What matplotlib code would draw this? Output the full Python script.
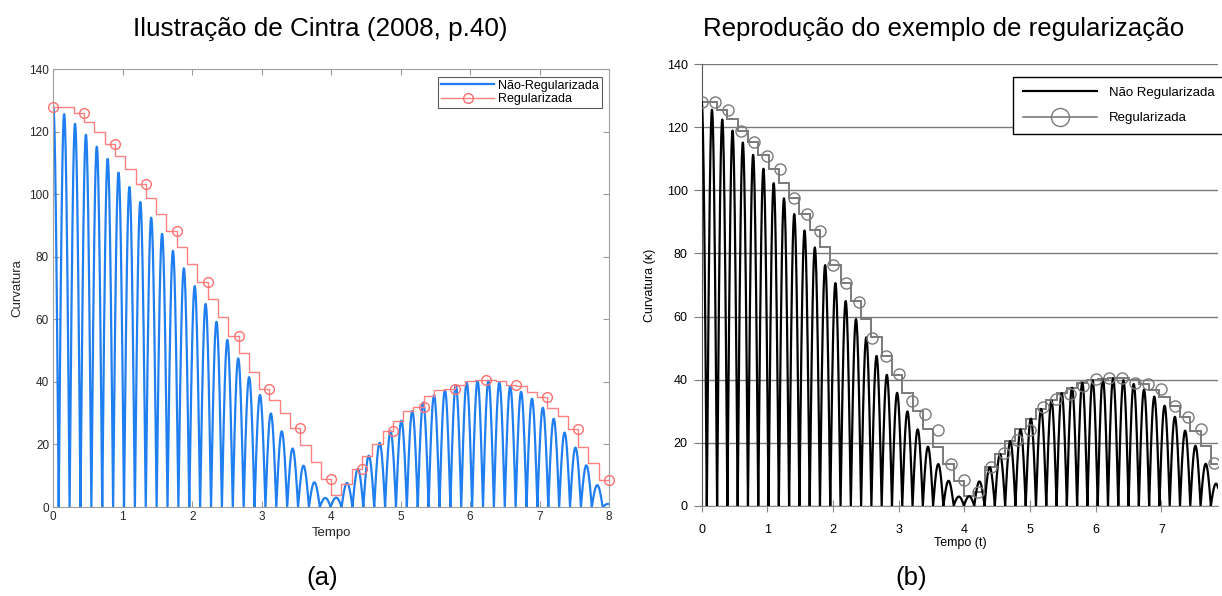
import numpy as np
import matplotlib
matplotlib.use('Agg')
import matplotlib.pyplot as plt
from matplotlib.lines import Line2D

plt.rcParams['font.family'] = ['Liberation Sans', 'DejaVu Sans']

# arch period of the curvature signal (time units)
period = 0.1566

# peak of each arch of the non-regularized curvature, k = 0..51
peak_vals = [128.0, 125.6, 122.5, 119.0, 115.2, 111.3, 106.9, 102.3, 97.5, 92.5,
             87.3, 81.9, 76.3, 70.6, 64.9, 59.2, 53.4, 47.5, 41.5, 35.8,
             29.9, 24.2, 18.7, 13.2, 7.9, 2.9, 3.0, 7.7, 12.2, 16.4,
             20.5, 24.2, 27.6, 30.7, 33.4, 35.7, 37.4, 39.0, 39.8, 40.3,
             40.4, 39.8, 38.6, 36.8, 34.6, 31.7, 28.2, 23.8, 19.0, 13.3,
             7.0, 1.0]

# (a) regularized curve, 55 samples over [0, 8]
reg_left = [128.0, 128.0, 128.0, 126.0, 123.2, 119.8, 116.1, 112.1, 108.0, 103.2,
            98.7, 93.6, 88.3, 83.0, 77.7, 72.0, 66.4, 60.8, 54.6, 49.1,
            43.2, 37.6, 34.2, 30.1, 25.1, 19.7, 14.3, 9.0, 4.0, 7.5,
            12.0, 16.4, 20.3, 24.2, 27.6, 30.7, 32.0, 35.5, 37.3, 37.8,
            39.0, 40.3, 40.5, 40.5, 40.2, 38.9, 38.6, 36.8, 35.1, 31.7,
            29.2, 24.9, 19.2, 14.0, 8.5]

# (b) regularized curve, one level per arch
reg_right = [128.0, 128.0, 125.6, 122.5, 119.0, 115.2, 111.3, 106.9, 102.3, 97.5,
             92.5, 87.3, 81.9, 76.3, 70.6, 64.9, 59.2, 53.4, 47.5, 41.5,
             35.8, 29.9, 24.2, 18.7, 13.2, 7.9, 3.0, 4.3, 12.2, 16.4,
             20.5, 24.2, 27.6, 30.7, 33.4, 35.7, 37.4, 39.0, 39.8, 40.3,
             40.4, 40.4, 39.8, 38.6, 36.8, 34.6, 31.7, 28.2, 23.8, 19.0,
             13.3, 7.0]

# (b) circle markers, every 0.2
mark_right = [128.0, 128.0, 125.5, 118.9, 115.3, 110.9, 106.8, 97.5, 92.5, 87.1,
              76.2, 70.6, 64.7, 53.3, 47.4, 41.7, 33.3, 29.0, 24.1, 13.3,
              8.0, 4.3, 12.4, 16.6, 20.8, 24.0, 31.2, 33.8, 35.4, 38.0,
              40.2, 40.6, 40.6, 39.0, 38.5, 36.9, 31.6, 28.2, 24.2, 13.6]


def arch_curve(tmax):
    ts, ys = [], []
    for k, a in enumerate(peak_vals):
        t0 = max((k - 0.5) * period, 0.0)
        t1 = min((k + 0.5) * period, tmax)
        if t0 >= tmax:
            break
        t = np.linspace(t0, t1, 60)
        ts.append(t)
        ys.append(a * np.abs(np.cos(np.pi * (t - k * period) / period)))
    return np.concatenate(ts), np.concatenate(ys)


fig = plt.figure(figsize=(12.22, 5.96), dpi=100)

###### PANEL (a) ########
ax1 = fig.add_axes([0.0436, 0.1493, 0.4548, 0.7349])
t1, k1 = arch_curve(8.0)
ax1.plot(t1, k1, color='#1f7ef0', lw=1.6, label='Não-Regularizada')
t_left = np.linspace(0, 8, len(reg_left))
ax1.plot(t_left, reg_left, drawstyle='steps-pre', color='#ff8080', lw=1.0,
         marker='o', markevery=3, mfc='none', mec='#ff7070', ms=7,
         label='Regularizada', clip_on=False, zorder=3)
ax1.set_xlim(0, 8)
ax1.set_ylim(0, 140)
ax1.set_xticks(range(0, 9))
ax1.set_yticks(range(0, 141, 20))
ax1.tick_params(direction='in', top=True, right=True, labelsize=8.5,
                colors='#9a9a9a', labelcolor='#262626', length=4, pad=3)
for s in ax1.spines.values():
    s.set_color('#a0a0a0')
ax1.set_xlabel('Tempo', fontsize=9.5, color='#262626', labelpad=3)
ax1.set_ylabel('Curvatura', fontsize=9.5, color='#262626', labelpad=4)
leg1 = ax1.legend(loc='upper right', fontsize=9, frameon=True, fancybox=False,
                  borderpad=0.25, handlelength=4.2, handletextpad=0.3,
                  labelspacing=0.1, borderaxespad=0.6)
leg1.get_frame().set_edgecolor('#333333')
leg1.get_frame().set_linewidth(0.8)

###### PANEL (b) ########
ax2 = fig.add_axes([0.5742, 0.1515, 0.4225, 0.7406])
t2, k2 = arch_curve(7.86)
ax2.plot(t2, k2, color='black', lw=1.6, zorder=3)
edges = [0.0] + [(k + 0.5) * period for k in range(len(reg_right))]
ax2.stairs(reg_right, edges, baseline=None, color='#7a7a7a', lw=1.4, zorder=2)
t_mark = np.arange(len(mark_right)) * 0.2
ax2.plot(t_mark, mark_right, ls='none', marker='o', mfc='none', mec='#7a7a7a',
         ms=8, mew=1.0, zorder=4)
ax2.set_xlim(0, 7.86)
ax2.set_ylim(0, 140)
ax2.set_xticks(range(0, 8))
ax2.set_yticks(range(0, 141, 20))
ax2.yaxis.grid(True, color='#7a7a7a', lw=1.0)
ax2.set_axisbelow(True)
ax2.spines['top'].set_visible(False)
ax2.spines['right'].set_visible(False)
ax2.spines['left'].set_color('#555555')
ax2.spines['bottom'].set_color('#8a8a8a')
ax2.tick_params(axis='y', direction='out', length=6, colors='#7a7a7a',
                labelcolor='black', labelsize=9, pad=4)
ax2.tick_params(axis='x', direction='inout', length=8, colors='#8a8a8a',
                labelcolor='black', labelsize=9, pad=9)
ax2.set_xlabel('Tempo (t)', fontsize=9, labelpad=1)
ax2.set_ylabel('Curvatura (\u03ba)', fontsize=9, labelpad=8)
handles = [Line2D([], [], color='black', lw=1.6),
           Line2D([], [], color='#7a7a7a', lw=1.2, marker='o', mfc='none',
                  mec='#7a7a7a', ms=13)]
leg2 = ax2.legend(handles, ['Não Regularizada', 'Regularizada'],
                  loc='upper right', bbox_to_anchor=(1.012, 0.972),
                  fontsize=9.5, frameon=True, fancybox=False, framealpha=1,
                  borderpad=0.75, handlelength=5.6, handletextpad=0.9,
                  labelspacing=1.0, borderaxespad=0)
leg2.get_frame().set_edgecolor('black')
leg2.get_frame().set_linewidth(1.0)

fig.text(0.262, 0.951, 'Ilustração de Cintra (2008, p.40)', ha='center',
         va='center', fontsize=18.8)
fig.text(0.772, 0.951, 'Reprodução do exemplo de regularização', ha='center',
         va='center', fontsize=18.6)
fig.text(0.2635, 0.030, '(a)', ha='center', va='center', fontsize=18.5)
fig.text(0.746, 0.030, '(b)', ha='center', va='center', fontsize=18.5)

plt.savefig('out.png', dpi=100)
